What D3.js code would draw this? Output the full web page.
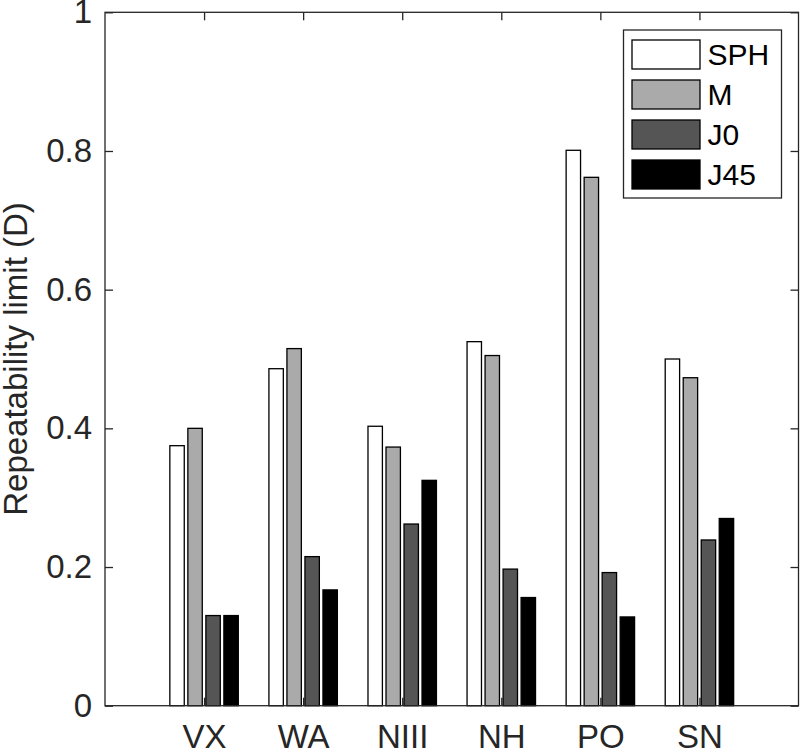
<!DOCTYPE html>
<html>
<head>
<meta charset="utf-8">
<script src="https://cdn.jsdelivr.net/npm/d3@7"></script>
<style>
  body { margin: 0; background: #fff; }
  svg { display: block; font-family: "Liberation Sans", Arial, sans-serif; }
</style>
</head>
<body>
<div id="chart"></div>
<script>
// Data
var categories = ["VX", "WA", "NIII", "NH", "PO", "SN"];
var seriesNames = ["SPH", "M", "J0", "J45"];
var sph = [0.375, 0.486, 0.403, 0.525, 0.801, 0.500];
var mVals = [0.400, 0.515, 0.373, 0.505, 0.762, 0.473];
var j0 = [0.130, 0.215, 0.262, 0.197, 0.192, 0.239];
var j45 = [0.130, 0.167, 0.325, 0.156, 0.128, 0.270];
var yTicks = [0, 0.2, 0.4, 0.6, 0.8, 1];

var seriesColors = ["#ffffff", "#aaaaaa", "#555555", "#000000"];
var allSeries = [sph, mVals, j0, j45];

var width = 800, height = 752;
var plotLeft = 105, plotRight = 798.5, plotTop = 12.3, plotBottom = 705.7;
var axisColor = "#262626";

var svg = d3.select("#chart").append("svg")
    .attr("width", width)
    .attr("height", height);

// scales: categories sit at 1..6 on a 0..7 axis, like the original
var xScale = d3.scaleLinear().domain([0, categories.length + 1]).range([plotLeft, plotRight]);
var yScale = d3.scaleLinear().domain([0, 1]).range([plotBottom, plotTop]);

// grouped bar geometry (in data units)
var nSeries = allSeries.length;
var groupWidth = Math.min(0.8, nSeries / (nSeries + 1.5));
var step = groupWidth / nSeries;
var barW = step * 0.8;

// ticks on the top and right, drawn under the bars
svg.append("g")
    .attr("transform", "translate(0," + plotTop + ")")
    .call(d3.axisTop(xScale).tickValues(d3.range(1, categories.length + 1)).tickSize(-8).tickSizeOuter(0).tickFormat(""))
    .call(function(g) { g.select(".domain").remove(); })
    .selectAll("line").attr("stroke", axisColor).attr("stroke-width", 1.3);

svg.append("g")
    .attr("transform", "translate(" + plotRight + ",0)")
    .call(d3.axisRight(yScale).tickValues(yTicks).tickSize(-8).tickSizeOuter(0).tickFormat(""))
    .call(function(g) { g.select(".domain").remove(); })
    .selectAll("line").attr("stroke", axisColor).attr("stroke-width", 1.3);

// bottom axis with category labels
var xAxisG = svg.append("g")
    .attr("transform", "translate(0," + plotBottom + ")")
    .call(d3.axisBottom(xScale)
        .tickValues(d3.range(1, categories.length + 1))
        .tickFormat(function(d) { return categories[d - 1]; })
        .tickSize(-8).tickSizeOuter(0).tickPadding(19));
xAxisG.select(".domain").remove();
xAxisG.selectAll("line").attr("stroke", axisColor).attr("stroke-width", 1.3);
xAxisG.selectAll("text")
    .attr("fill", axisColor)
    .style("font-size", "33px");

// left axis
var yAxisG = svg.append("g")
    .attr("transform", "translate(" + plotLeft + ",0)")
    .call(d3.axisLeft(yScale)
        .tickValues(yTicks)
        .tickFormat(function(d) { return d3.format("~g")(d); })
        .tickSize(-8).tickSizeOuter(0).tickPadding(13));
yAxisG.select(".domain").remove();
yAxisG.selectAll("line").attr("stroke", axisColor).attr("stroke-width", 1.3);
yAxisG.selectAll("text")
    .attr("fill", axisColor)
    .style("font-size", "33px");

// bars
allSeries.forEach(function(vals, s) {
    svg.append("g").selectAll("rect")
        .data(vals)
        .enter()
        .append("rect")
        .attr("x", function(d, i) {
            var c = (i + 1) - groupWidth / 2 + step * (s + 0.5);
            return xScale(c - barW / 2);
        })
        .attr("width", function() { return xScale(barW) - xScale(0); })
        .attr("y", function(d) { return yScale(d); })
        .attr("height", function(d) { return yScale(0) - yScale(d); })
        .attr("fill", seriesColors[s])
        .attr("stroke", "#000")
        .attr("stroke-width", 1.3);
});

// axes box
svg.append("rect")
    .attr("x", plotLeft)
    .attr("y", plotTop)
    .attr("width", plotRight - plotLeft)
    .attr("height", plotBottom - plotTop)
    .attr("fill", "none")
    .attr("stroke", axisColor)
    .attr("stroke-width", 1.3);

// y label
svg.append("text")
    .attr("transform", "translate(27," + ((plotTop + plotBottom) / 2) + ") rotate(-90)")
    .attr("text-anchor", "middle")
    .attr("fill", axisColor)
    .style("font-size", "33px")
    .text("Repeatability limit (D)");

// legend
var legend = svg.append("g").attr("transform", "translate(623.5,30)");
legend.append("rect")
    .attr("width", 158)
    .attr("height", 168)
    .attr("fill", "#fff")
    .attr("stroke", axisColor)
    .attr("stroke-width", 1.3);

var items = legend.selectAll("g.item")
    .data(seriesNames)
    .enter()
    .append("g")
    .attr("class", "item")
    .attr("transform", function(d, i) { return "translate(0," + (10 + i * 40) + ")"; });

items.append("rect")
    .attr("x", 8.5)
    .attr("width", 68)
    .attr("height", 29)
    .attr("fill", function(d, i) { return seriesColors[i]; })
    .attr("stroke", "#000")
    .attr("stroke-width", 1.3);

items.append("text")
    .attr("x", 84)
    .attr("y", 14.5)
    .attr("dy", "0.36em")
    .attr("fill", "#000")
    .style("font-size", "30px")
    .text(function(d) { return d; });
</script>
</body>
</html>
